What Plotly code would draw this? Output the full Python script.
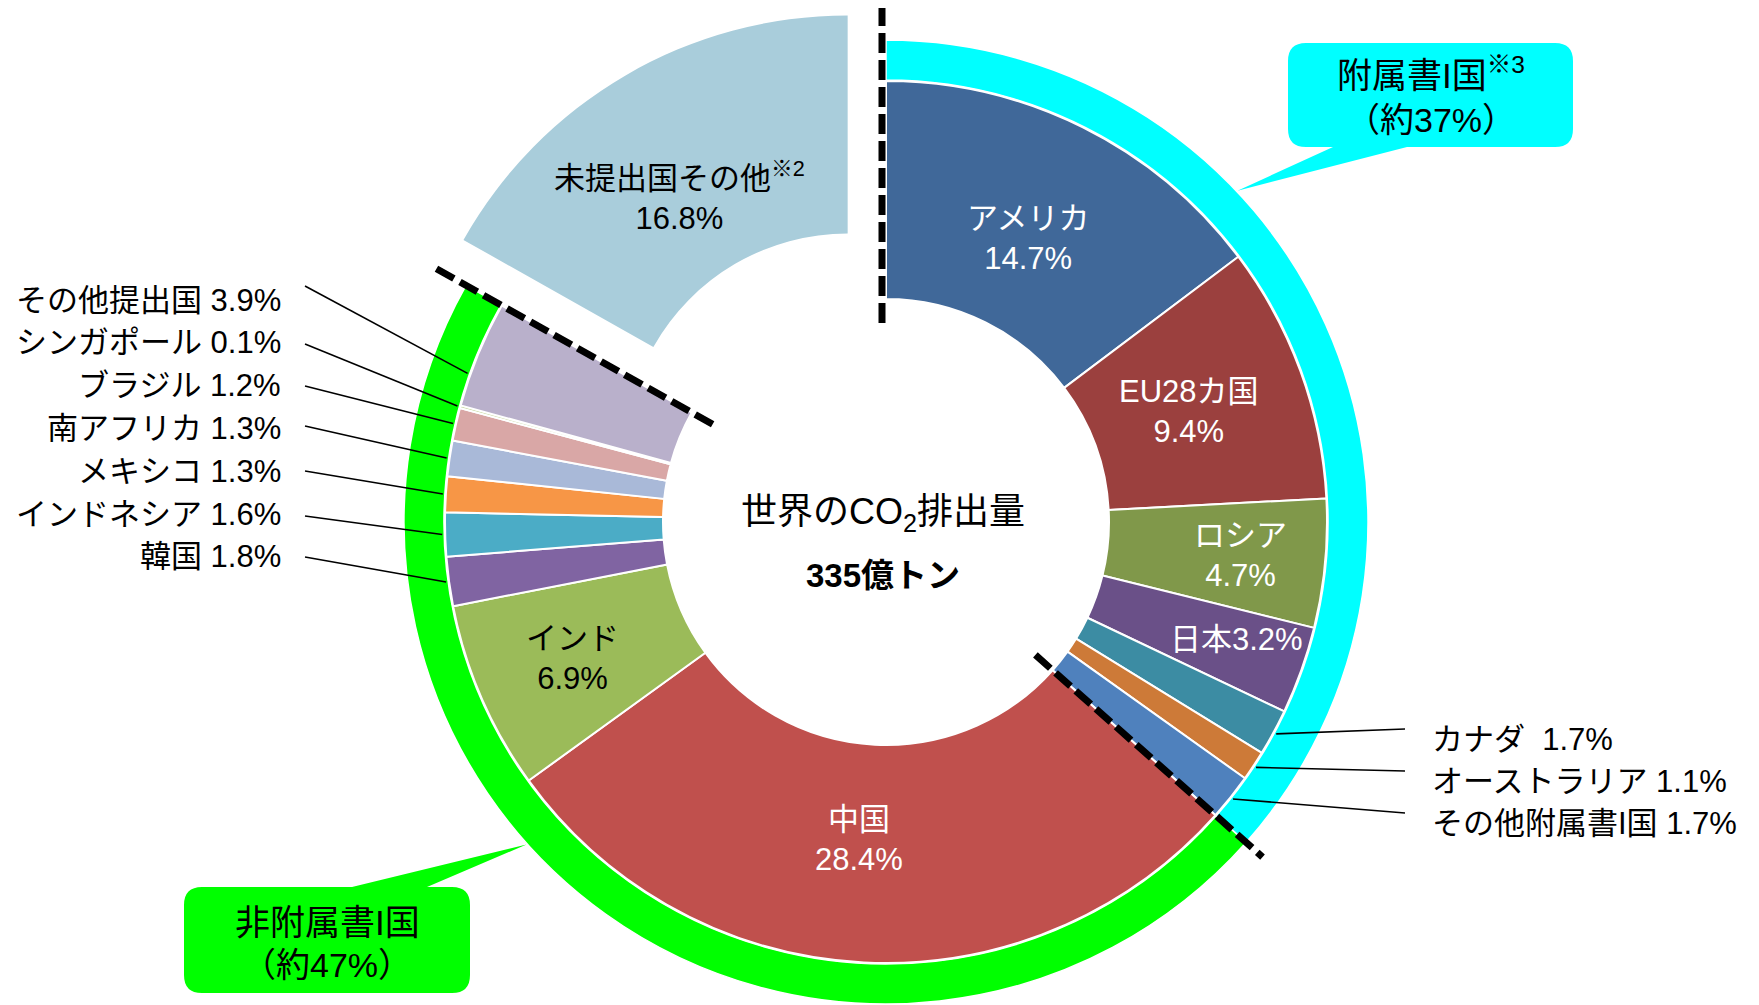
import math
import plotly.graph_objects as go

W, H = 1759, 1005

# ---------------- data ----------------
countries = ["アメリカ", "EU28カ国", "ロシア", "日本", "カナダ", "オーストラリア", "その他附属書I国",
             "中国", "インド", "韓国", "インドネシア", "メキシコ", "南アフリカ", "ブラジル",
             "シンガポール", "その他提出国", "未提出国その他"]
shares = [14.7, 9.4, 4.7, 3.2, 1.7, 1.1, 1.7, 28.4, 6.9, 1.8, 1.6, 1.3, 1.3, 1.2, 0.1, 3.9, 16.8]
group_of = ["annex1"] * 7 + ["non_annex1"] * 9 + ["unsubmitted"]
group_keys = ["annex1", "non_annex1", "unsubmitted"]
group_titles = {"annex1": "附属書I国<sup>※3</sup>", "non_annex1": "非附属書I国"}
group_approx = {"annex1": "（約37%）", "non_annex1": "（約47%）"}
center_title = "世界のCO<sub>2</sub>排出量"
center_total = "335億トン"
footnote_marks = {"未提出国その他": "※2"}
exploded_name = "未提出国その他"

# ---------------- styles / layout ----------------
slice_colors = ["#406899", "#9B403E", "#80984A", "#6A5088", "#3C8CA3", "#CD7A38", "#4F81BD",
                "#C0504D", "#9BBB59", "#8064A2", "#4BACC6", "#F79646", "#A9B9D8", "#D9A7A6",
                "#C4D79B", "#B9B0CB", "#A9CDDB"]
group_colors = {"annex1": "#00FFFF", "non_annex1": "#00FF00", "unsubmitted": "rgba(0,0,0,0)"}
CLEAR = "rgba(0,0,0,0)"
FONT = "Liberation Sans, Arial, Noto Sans CJK JP, sans-serif"

CX, CY = 886, 522          # pie centre (px)
R_OUT = 441                # slice outer radius
R_IN = 223                 # hole radius
R_RING = 482               # outer band radius
EXPLODE = 76               # pull distance of the exploded slice (px)

# inside labels: radius, angle tweak (deg), colour, single line?
inside_labels = {
    "アメリカ": (317, 0, "white", False),
    "EU28カ国": (323, 0, "white", False),
    "ロシア": (356, 0, "white", False),
    "日本": (370, -1.2, "white", True),
    "中国": (319, 2, "white", False),
    "インド": (342, 0, "black", False),
    "未提出国その他": (310, -2.5, "black", False),
}
# outside labels: (name, text y, line-start y offset, anchor fraction inside slice)
left_labels = [("その他提出国", 300, -14, 0.3), ("シンガポール", 342, 2, 0.5), ("ブラジル", 385, 1, 0.5),
               ("南アフリカ", 428, -2, 0.5), ("メキシコ", 471, 0, 0.5), ("インドネシア", 514, 2, 0.5),
               ("韓国", 556, 1, 0.5)]
right_labels = [("カナダ", 739, -10, 0.5), ("オーストラリア", 781, -10, 0.5), ("その他附属書I国", 823, -10, 0.5)]
LEFT_TEXT_X, LEFT_LINE_X = 283, 305
RIGHT_TEXT_X, RIGHT_LINE_X = 1430, 1405
LABEL_SIZE = 31

total = sum(shares)
cum = [sum(shares[:i]) for i in range(len(shares))]


def bearing(frac):
    return 360.0 * frac


def polar(cx, cy, r, deg):
    a = math.radians(deg)
    return cx + r * math.sin(a), cy - r * math.cos(a)


def dom(cx, cy, r):
    return dict(x=[(cx - r) / W, (cx + r) / W], y=[max(0, (H - (cy + r)) / H), min(1, (H - (cy - r)) / H)])


ex_i = countries.index(exploded_name)
ex_b = bearing((cum[ex_i] + shares[ex_i] / 2) / total)
EX_CX, EX_CY = polar(CX, CY, EXPLODE, ex_b)

fig = go.Figure()
# invisible trace to create px-based cartesian axes for shapes/annotations
fig.add_trace(go.Scatter(x=[None], y=[None], showlegend=False, hoverinfo="skip"))

# outer group band
group_vals = [sum(v for v, g in zip(shares, group_of) if g == k) for k in group_keys]
fig.add_trace(go.Pie(
    values=group_vals, labels=group_keys, sort=False, direction="clockwise", rotation=0,
    hole=(R_OUT + 1) / R_RING, domain=dom(CX, CY, R_RING),
    marker=dict(colors=[group_colors[k] for k in group_keys],
                line=dict(color="white", width=[1.5, 1.5, 0])),
    textinfo="none", hoverinfo="skip", showlegend=False))

# main donut (exploded slice left transparent)
main_colors = [CLEAR if c == exploded_name else col for c, col in zip(countries, slice_colors)]
fig.add_trace(go.Pie(
    values=shares, labels=countries, sort=False, direction="clockwise", rotation=0,
    hole=R_IN / R_OUT, domain=dom(CX, CY, R_OUT),
    marker=dict(colors=main_colors,
                line=dict(color="white", width=[0 if c == exploded_name else 2 for c in countries])),
    textinfo="none", hoverinfo="skip", showlegend=False))

# exploded slice
ex_colors = [col if c == exploded_name else CLEAR for c, col in zip(countries, slice_colors)]
fig.add_trace(go.Pie(
    values=shares, labels=countries, sort=False, direction="clockwise", rotation=0,
    hole=R_IN / R_OUT, domain=dom(EX_CX, EX_CY, R_OUT),
    marker=dict(colors=ex_colors, line=dict(color="white", width=0)),
    textinfo="none", hoverinfo="skip", showlegend=False))

shapes = []
annotations = []

# inside labels
for name, (r, tweak, color, single) in inside_labels.items():
    i = countries.index(name)
    b = bearing((cum[i] + shares[i] / 2) / total) + tweak
    cx, cy = (EX_CX, EX_CY) if name == exploded_name else (CX, CY)
    x, y = polar(cx, cy, r, b)
    title = name + (f"<sup>{footnote_marks[name]}</sup>" if name in footnote_marks else "")
    txt = f"{title}{shares[i]}%" if single else f"{title}<br>{shares[i]}%"
    annotations.append(dict(x=x, y=y, xref="x", yref="y", text=txt, showarrow=False,
                            xanchor="center", yanchor="middle",
                            font=dict(family=FONT, size=LABEL_SIZE, color=color)))

# leader labels
for side, items in (("left", left_labels), ("right", right_labels)):
    for name, ty, off, fr in items:
        i = countries.index(name)
        b = bearing((cum[i] + shares[i] * fr) / total)
        ex, ey = polar(CX, CY, R_OUT + 3, b)
        sx = LEFT_LINE_X if side == "left" else RIGHT_LINE_X
        shapes.append(dict(type="line", xref="x", yref="y", x0=sx, y0=ty + off, x1=ex, y1=ey,
                           line=dict(color="black", width=1.6), layer="above"))
        sep = "\u00a0\u00a0" if name == "カナダ" else " "
        annotations.append(dict(x=LEFT_TEXT_X if side == "left" else RIGHT_TEXT_X, y=ty, xref="x", yref="y",
                                text=f"{name}{sep}{shares[i]}%", showarrow=False,
                                xanchor="right" if side == "left" else "left", yanchor="middle",
                                font=dict(family=FONT, size=LABEL_SIZE, color="black")))

# dashed boundary lines (start, end of annex I, end of non-annex I)
b_ends = {}
acc = 0
for k, v in zip(group_keys, group_vals):
    acc += v
    b_ends[k] = bearing(acc / total)
dash_specs = [(0.0, 199, 514, -4), (b_ends["annex1"], 200, 504, 0), (b_ends["non_annex1"], 199, 516, 0)]
for b, r0, r1, off in dash_specs:
    a = math.radians(b)
    px, py = math.cos(a) * off, math.sin(a) * off
    x0, y0 = polar(CX, CY, r0, b)
    x1, y1 = polar(CX, CY, r1, b)
    shapes.append(dict(type="line", xref="x", yref="y", x0=x0 + px, y0=y0 + py, x1=x1 + px, y1=y1 + py,
                       line=dict(color="black", width=7, dash="20px,7px"), layer="above"))


# callout boxes
def callout(x0, y0, x1, y1, rad, t0, t1, tip, tail_top):
    tx, ty = tip
    if tail_top:
        p = (f"M{x0+rad},{y0} L{t0},{y0} L{tx},{ty} L{t1},{y0} L{x1-rad},{y0} Q{x1},{y0} {x1},{y0+rad} "
             f"L{x1},{y1-rad} Q{x1},{y1} {x1-rad},{y1} L{x0+rad},{y1} Q{x0},{y1} {x0},{y1-rad} "
             f"L{x0},{y0+rad} Q{x0},{y0} {x0+rad},{y0} Z")
    else:
        p = (f"M{x0+rad},{y0} L{x1-rad},{y0} Q{x1},{y0} {x1},{y0+rad} L{x1},{y1-rad} Q{x1},{y1} {x1-rad},{y1} "
             f"L{t1},{y1} L{tx},{ty} L{t0},{y1} L{x0+rad},{y1} Q{x0},{y1} {x0},{y1-rad} "
             f"L{x0},{y0+rad} Q{x0},{y0} {x0+rad},{y0} Z")
    return p


boxes = {
    "annex1": dict(box=(1288, 43, 1573, 147), tail=(1333, 1407), tip_b=46.7, tail_top=False, lines=(73, 120)),
    "non_annex1": dict(box=(184, 887, 470, 993), tail=(352, 427), tip_b=228.1, tail_top=True, lines=(922, 965)),
}
for k, bx in boxes.items():
    x0, y0, x1, y1 = bx["box"]
    tip = polar(CX, CY, R_RING + 1, bx["tip_b"])
    path = callout(x0, y0, x1, y1, 18, bx["tail"][0], bx["tail"][1], tip, bx["tail_top"])
    shapes.append(dict(type="path", xref="x", yref="y", path=path, fillcolor=group_colors[k],
                       line=dict(width=0), layer="above"))
    xc = (x0 + x1) / 2
    annotations.append(dict(x=xc, y=bx["lines"][0], xref="x", yref="y", text=group_titles[k], showarrow=False,
                            xanchor="center", yanchor="middle", font=dict(family=FONT, size=35, color="black")))
    annotations.append(dict(x=xc, y=bx["lines"][1], xref="x", yref="y", text=group_approx[k], showarrow=False,
                            xanchor="center", yanchor="middle", font=dict(family=FONT, size=34, color="black")))

# centre text
annotations.append(dict(x=883, y=514, xref="x", yref="y", text=center_title, showarrow=False,
                        xanchor="center", yanchor="middle", font=dict(family=FONT, size=36, color="black")))
annotations.append(dict(x=883, y=575, xref="x", yref="y", text=f"<b>{center_total}</b>", showarrow=False,
                        xanchor="center", yanchor="middle", font=dict(family=FONT, size=33, color="black")))

fig.update_layout(
    width=W, height=H, margin=dict(l=0, r=0, t=0, b=0, pad=0),
    paper_bgcolor="white", plot_bgcolor="rgba(0,0,0,0)", showlegend=False,
    xaxis=dict(range=[0, W], visible=False, fixedrange=True),
    yaxis=dict(range=[H, 0], visible=False, fixedrange=True),
    shapes=shapes, annotations=annotations,
)

fig.write_html("out.html", post_script="document.body.style.margin='0px';", config={"displayModeBar": False})
